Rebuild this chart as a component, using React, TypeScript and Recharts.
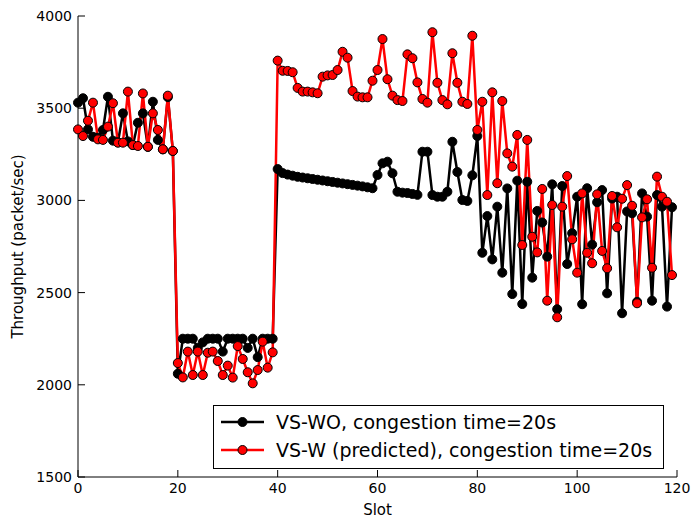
import { LineChart, Line, XAxis, YAxis } from "recharts";

// VS-WO, congestion time=20s (black)
const vsWo = [
  3530, 3554, 3385, 3345, 3340, 3382, 3562, 3324, 3315, 3472, 3320, 3300, 3421, 3472, 3290, 3535, 3328, 3277, 3560, 3268,
  2060, 2250, 2250, 2250, 2200, 2230, 2250, 2250, 2250, 2180, 2250, 2250, 2250, 2250, 2200, 2250, 2150, 2250, 2250, 2250,
  3170, 3148, 3140, 3134, 3128, 3124, 3120, 3116, 3112, 3108, 3104, 3100, 3096, 3092, 3088, 3084, 3080, 3076, 3071,
  3066, 3138, 3201, 3210, 3147, 3047, 3042, 3040, 3035, 3030, 3264, 3264, 3029, 3020, 3020, 3047, 3318, 3154, 3002, 2997, 3136, 3349,
  2716, 2915, 2680, 2966, 2608, 3065, 2492, 3107, 2438, 3101, 2581, 2943, 2880, 2695, 3087, 2410, 3078, 2655, 2822, 3020, 2437, 3066,
  2760, 2990, 3056, 2496, 3010, 3020, 2388, 2940, 2930, 2450, 3038, 2912, 2456, 3029, 2966, 2424, 2963,
];

// VS-W (predicted), congestion time=20s (red)
const vsW = [
  3385, 3349, 3432, 3530, 3331, 3328, 3400, 3527, 3313, 3313, 3590, 3300, 3295, 3580, 3291, 3472, 3382, 3277, 3568, 3268,
  2118, 2040, 2180, 2053, 2180, 2053, 2174, 2180, 2129, 2053, 2104, 2039, 2210, 2140, 2068, 2008, 2080, 2234, 2093, 2176,
  3758, 3703, 3702, 3695, 3610, 3590, 3590, 3586, 3581, 3671, 3678, 3680, 3707, 3806, 3774, 3593, 3563, 3559, 3559, 3649,
  3707, 3875, 3657, 3568, 3544, 3539, 3792, 3771, 3640, 3550, 3530, 3912, 3638, 3544, 3521, 3798, 3638, 3535, 3523, 3893, 3382,
  3535, 3029, 3586, 3093, 3539, 3255, 3183, 3355, 2758, 3328, 2803, 2718, 3062, 2456, 2975, 2366, 2966, 3132, 2789, 2608, 3038,
  2716, 2659, 3033, 2726, 2632, 3024, 2854, 3009, 3083, 2971, 2442, 2908, 3006, 2635, 3129, 3020, 2993, 2595,
];

const xTicks = [0, 20, 40, 60, 80, 100, 120];
const yTicks = [1500, 2000, 2500, 3000, 3500, 4000];

const data = vsWo.map((v, i) => ({ slot: i, wo: v, w: vsW[i] }));

const font = "'DejaVu Sans', sans-serif";
const tickStyle = { fill: "#000", fontSize: 14, fontFamily: font };

const YTitle = ({ viewBox }: any) => {
  const cx = viewBox.x + 18;
  const cy = viewBox.y + viewBox.height / 2;
  return (
    <text x={cx} y={cy} transform={`rotate(-90 ${cx} ${cy})`} textAnchor="middle"
      dominantBaseline="central" fontSize={15} fontFamily={font} fill="#000">
      Throughput (packet/sec)
    </text>
  );
};

const XTitle = ({ viewBox }: any) => (
  <text x={viewBox.x + viewBox.width / 2} y={viewBox.y + viewBox.height - 4} textAnchor="middle"
    fontSize={15} fontFamily={font} fill="#000">
    Slot
  </text>
);

const legendItems = [
  { label: "VS-WO, congestion time=20s", color: "#000000" },
  { label: "VS-W (predicted), congestion time=20s", color: "#ff0000" },
];

export default function App() {
  return (
    <div style={{ position: "relative", width: 691, height: 519, background: "#fff" }}>
      <style>{`body{margin:0}`}</style>
      <LineChart width={691} height={519} data={data} margin={{ top: 16, right: 14, bottom: 0, left: 0 }}>
        <XAxis xAxisId="b" type="number" dataKey="slot" domain={[0, 120]} ticks={xTicks} height={42}
          tickSize={-7} tickMargin={13} tick={tickStyle} stroke="#000" tickLine={{ stroke: "#000" }}
          axisLine={{ stroke: "#000" }} label={<XTitle />} interval={0} />
        <XAxis xAxisId="t" orientation="top" type="number" dataKey="slot" domain={[0, 120]} ticks={xTicks}
          height={0} tickSize={-7} tick={false} stroke="#000" tickLine={{ stroke: "#000" }} interval={0} />
        <YAxis yAxisId="l" type="number" domain={[1500, 4000]} ticks={yTicks} width={78}
          tickSize={-7} tickMargin={13} tick={tickStyle} stroke="#000" tickLine={{ stroke: "#000" }}
          axisLine={{ stroke: "#000" }} label={<YTitle />} interval={0} />
        <YAxis yAxisId="r" orientation="right" type="number" domain={[1500, 4000]} ticks={yTicks} width={0}
          tickSize={-7} tick={false} stroke="#000" tickLine={{ stroke: "#000" }} interval={0} />
        <Line xAxisId="b" yAxisId="l" type="linear" dataKey="wo" stroke="#000" strokeWidth={2.5}
          dot={{ r: 4.5, fill: "#000", stroke: "#000", strokeWidth: 1 }} isAnimationActive={false} />
        <Line xAxisId="b" yAxisId="l" type="linear" dataKey="w" stroke="#ff0000" strokeWidth={2.5}
          dot={{ r: 4.5, fill: "#ff0000", stroke: "#000", strokeWidth: 1 }} isAnimationActive={false} />
      </LineChart>
      <svg width={451} height={64} style={{ position: "absolute", left: 213, top: 405 }}>
        <rect x={0.5} y={0.5} width={450} height={63} fill="#fff" stroke="#000" strokeWidth={1} />
        {legendItems.map((it, i) => (
          <g key={it.label} transform={`translate(0 ${17 + i * 28})`}>
            <line x1={8} x2={51} y1={0} y2={0} stroke={it.color} strokeWidth={2.5} />
            <circle cx={29.5} cy={0} r={4.5} fill={it.color} stroke="#000" strokeWidth={1} />
            <text x={63} y={7} fontSize={19} fontFamily={font} fill="#000">{it.label}</text>
          </g>
        ))}
      </svg>
    </div>
  );
}
